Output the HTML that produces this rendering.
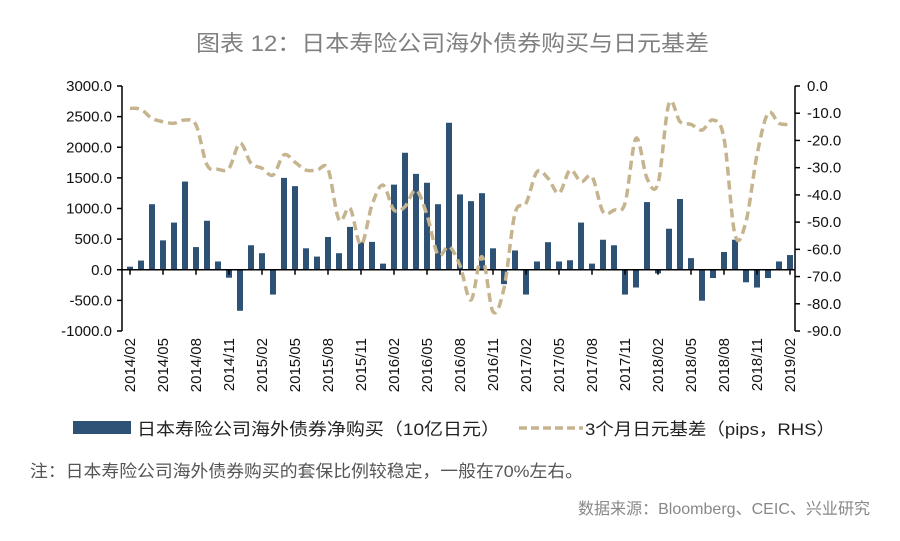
<!DOCTYPE html>
<html><head><meta charset="utf-8"><style>
body{margin:0;background:#fff;}
svg{display:block;font-family:"Liberation Sans","Noto Sans CJK SC",sans-serif;}
</style></head><body>
<svg id="c" width="900" height="541" viewBox="0 0 900 541">
<text x="196" y="51" textLength="513" lengthAdjust="spacingAndGlyphs" font-size="22" fill="#808080">图表 12：日本寿险公司海外债券购买与日元基差</text>
<g id="plot"></g>
<g>
<g><rect x="73" y="421" width="58" height="13" fill="#2e5275"/><text x="137" y="435" textLength="363" lengthAdjust="spacingAndGlyphs" font-size="17" fill="#222">日本寿险公司海外债券净购买（10亿日元）</text></g>
<g><line x1="519" y1="428" x2="583" y2="428" stroke="#c5b48e" stroke-width="3.5" stroke-dasharray="8,4"/><text x="585" y="435" textLength="250" lengthAdjust="spacingAndGlyphs" font-size="17" fill="#222">3个月日元基差（pips，RHS）</text></g>
</g>
<text x="30" y="477" textLength="553" lengthAdjust="spacingAndGlyphs" font-size="17" fill="#555">注：日本寿险公司海外债券购买的套保比例较稳定，一般在70%左右。</text>
<text x="578" y="514" textLength="292" lengthAdjust="spacingAndGlyphs" font-size="16" fill="#888">数据来源：Bloomberg、CEIC、兴业研究</text>
</svg>
<script>
const months = 61;
const xTickLabels = ["2014/02","2014/05","2014/08","2014/11","2015/02","2015/05","2015/08","2015/11","2016/02","2016/05","2016/08","2016/11","2017/02","2017/05","2017/08","2017/11","2018/02","2018/05","2018/08","2018/11","2019/02"];
const leftTicks = [3000,2500,2000,1500,1000,500,0,-500,-1000];
const rightTicks = [0,-10,-20,-30,-40,-50,-60,-70,-80,-90];
const purchases = [50,150,1070,480,770,1440,370,800,135,-130,-670,400,270,-405,1500,1365,350,215,535,270,700,450,455,100,1390,1910,1565,1420,1070,2400,1230,1120,1250,350,-235,315,-405,135,450,135,155,770,100,490,400,-405,-290,1105,-60,670,1155,190,-505,-135,290,490,-205,-290,-135,135,240];
const basis = [-8.2,-8.6,-11.9,-13.1,-13.7,-12.5,-14.3,-29,-30.6,-30.2,-21,-28.4,-30.2,-32.7,-25.3,-28,-30.9,-30.9,-30.5,-49.2,-44.9,-58.4,-43.7,-36.4,-45.6,-44.3,-38.2,-47.4,-62,-59,-66,-78.6,-62.7,-82.9,-74.3,-46.8,-43.1,-31.5,-33.9,-39.4,-30.9,-35.2,-33.3,-46.2,-45.6,-43.1,-19.2,-33.9,-35.8,-6.4,-13.1,-14.1,-16.2,-12.5,-19.2,-54.7,-49.8,-25.3,-10,-13.7,-14.1];

const NS="http://www.w3.org/2000/svg";
const g=document.getElementById('plot');
const X0=130,X1=790,YT=86,YB=331,LX=122,RX=795;
const xs=i=>X0+(X1-X0)*i/(months-1);
const yl=v=>YT+(3000-v)/4000*(YB-YT);
const yr=v=>YT+(0-v)/90*(YB-YT);
function mk(t,a){const e=document.createElementNS(NS,t);for(const k in a)e.setAttribute(k,a[k]);g.appendChild(e);return e;}
purchases.forEach((v,i)=>{
 const y0=yl(0),y1=yl(v);
 const r=mk('rect',{x:xs(i)-3,y:Math.min(y0,y1),width:6,height:Math.abs(y1-y0),fill:'#2e5275'});
 
 
});
const la=mk('line',{x1:LX,y1:YT,x2:LX,y2:YB,stroke:'#000','stroke-width':1.5});


const ra=mk('line',{x1:RX,y1:YT,x2:RX,y2:YB,stroke:'#000','stroke-width':1.5});


const za=mk('line',{x1:LX,y1:yl(0),x2:RX,y2:yl(0),stroke:'#000','stroke-width':1.5});


leftTicks.forEach(v=>{
 mk('line',{x1:LX-5,y1:yl(v),x2:LX,y2:yl(v),stroke:'#000','stroke-width':1.5});
 const t=mk('text',{x:LX-10,y:yl(v)+5,'text-anchor':'end','font-size':15,fill:'#111'});
 t.textContent=v.toFixed(1);
 
 
});
rightTicks.forEach(v=>{
 mk('line',{x1:RX,y1:yr(v),x2:RX+5,y2:yr(v),stroke:'#000','stroke-width':1.5});
 const t=mk('text',{x:RX+12,y:yr(v)+5,'font-size':15,fill:'#111'});
 t.textContent=v.toFixed(1);
 
 
});
xTickLabels.forEach((s,k)=>{
 const x=xs(k*3);
 mk('line',{x1:x,y1:yl(0),x2:x,y2:yl(0)+5,stroke:'#000','stroke-width':1.5});
 const t=mk('text',{x:0,y:0,'text-anchor':'end','font-size':15,fill:'#111',transform:`translate(${x+5},338) rotate(-90)`});
 t.textContent=s;
 
 
});
// smooth line (catmull-rom)
const P=basis.map((v,i)=>[xs(i),yr(v)]);
let d='M'+P[0][0].toFixed(1)+','+P[0][1].toFixed(1);
for(let i=0;i<P.length-1;i++){
 const p0=P[Math.max(0,i-1)],p1=P[i],p2=P[i+1],p3=P[Math.min(P.length-1,i+2)];
 const c1=[p1[0]+(p2[0]-p0[0])/6,p1[1]+(p2[1]-p0[1])/6];
 const c2=[p2[0]-(p3[0]-p1[0])/6,p2[1]-(p3[1]-p1[1])/6];
 d+=` C${c1[0].toFixed(1)},${c1[1].toFixed(1)} ${c2[0].toFixed(1)},${c2[1].toFixed(1)} ${p2[0].toFixed(1)},${p2[1].toFixed(1)}`;
}
const pl=mk('path',{d:d,fill:'none',stroke:'#c5b48e','stroke-width':3.5,'stroke-dasharray':'9,5','stroke-linejoin':'round'});


</script>
</body></html>
